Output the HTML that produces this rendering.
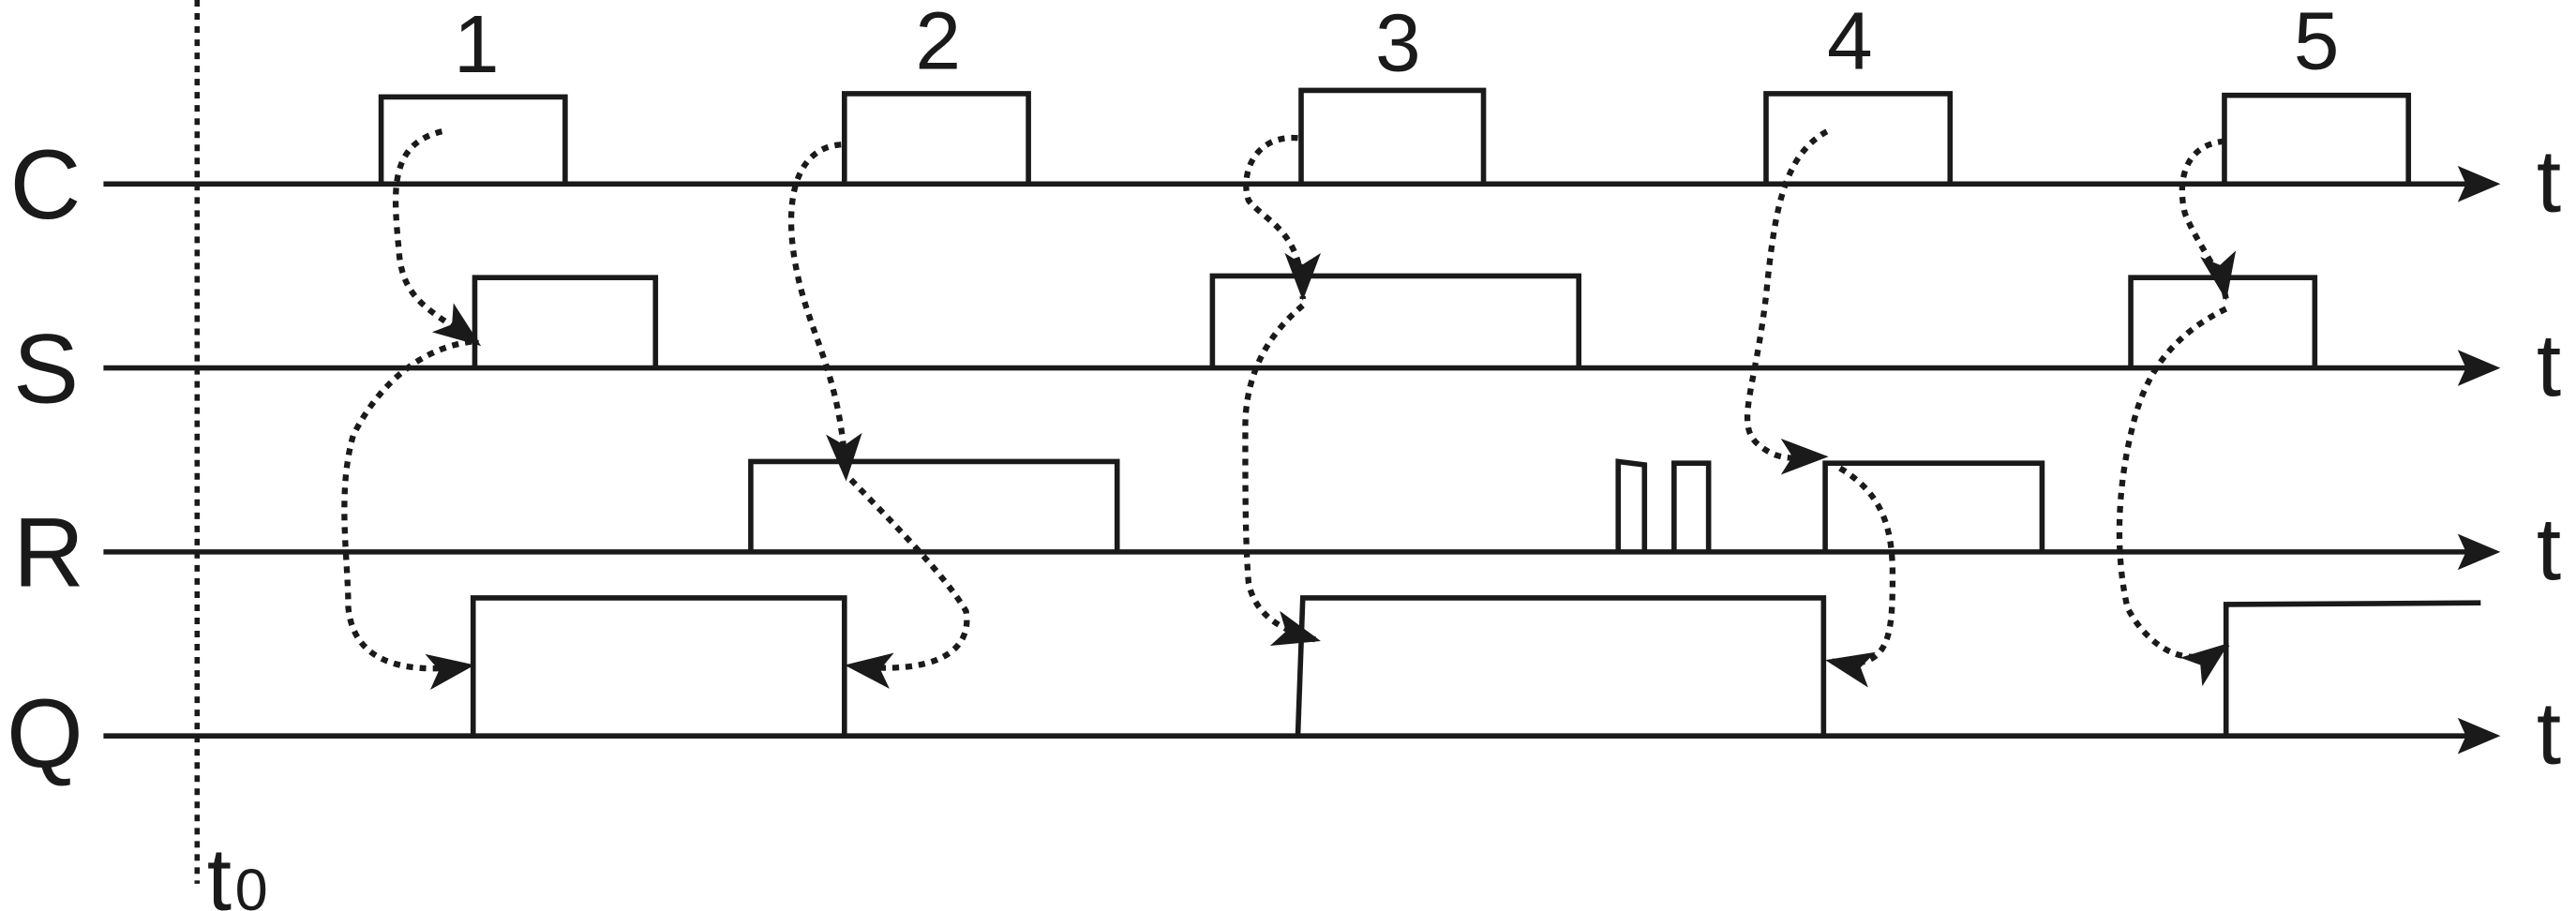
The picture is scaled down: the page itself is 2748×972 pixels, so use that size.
<!DOCTYPE html>
<html><head><meta charset="utf-8"><style>
html,body{margin:0;padding:0;background:#fff;}
svg{display:block;}
text{font-family:"Liberation Sans",sans-serif;fill:#1a1a1a;}
</style></head><body>
<svg width="2748" height="972" viewBox="0 0 1568 554.6" preserveAspectRatio="none" xmlns="http://www.w3.org/2000/svg">
<defs>
<marker id="a" markerWidth="34" markerHeight="26" refX="28" refY="11" orient="auto" markerUnits="userSpaceOnUse">
<path d="M0,0 L29,11 L0,22 L7,11 Z" fill="#1a1a1a"/>
</marker>
</defs>
<g stroke="#1a1a1a" stroke-width="3.2" fill="none">
<line x1="63" y1="112" x2="1505" y2="112"/>
<line x1="63" y1="224" x2="1505" y2="224"/>
<line x1="63" y1="336" x2="1505" y2="336"/>
<line x1="63" y1="448" x2="1505" y2="448"/>
<path d="M232,112 V59 H344 V112"/>
<path d="M514,112 V57 H626 V112"/>
<path d="M792,112 V55 H903 V112"/>
<path d="M1075,112 V57 H1187 V112"/>
<path d="M1354,112 V58 H1466 V112"/>
<path d="M289,224 V169 H399 V224"/>
<path d="M738,224 V168 H961 V224"/>
<path d="M1297,224 V169 H1409 V224"/>
<path d="M457,336 V281 H680 V336"/>
<path d="M985,336 V281 L1001,283 V336"/>
<path d="M1019,336 V282 H1040 V336"/>
<path d="M1111,336 V282 H1243 V336"/>
<path d="M288,448 V364 H514 V448"/>
<path d="M790,448 L793,364 H1110 V448"/>
<path d="M1355,448 V368 L1510,367"/>
</g>
<g fill="#1a1a1a">
<path d="M1522,112 L1496,101 L1501,112 L1496,123 Z"/>
<path d="M1522,224 L1496,213 L1501,224 L1496,235 Z"/>
<path d="M1522,336 L1496,325 L1501,336 L1496,347 Z"/>
<path d="M1522,448 L1496,437 L1501,448 L1496,459 Z"/>
</g>
<line x1="120" y1="0" x2="120" y2="538" stroke="#1a1a1a" stroke-width="3.2" stroke-dasharray="4 4"/>
<g stroke="#1a1a1a" stroke-width="3.6" stroke-dasharray="4 4" fill="none" marker-end="url(#a)">
<path d="M269,80 C235,88 240,120 243,155 C246,185 265,190 292,210"/>
<path d="M287,208 C255,212 230,235 215,265 C205,300 212,340 212,370 C215,400 240,412 288,405"/>
<path d="M512,88 C485,90 477,120 484,160 C492,205 512,225 515,292"/>
<path d="M518,292 C545,320 575,350 588,372 C592,395 572,412 515,405"/>
<path d="M790,84 C762,82 755,108 760,122 C770,135 793,140 793,182"/>
<path d="M793,186 C770,205 758,230 758,260 C758,300 758,330 760,355 C765,378 785,385 803,390"/>
<path d="M1112,80 C1085,95 1080,130 1075,180 C1068,240 1055,260 1072,272 C1085,282 1095,278 1112,278"/>
<path d="M1120,285 C1145,300 1152,320 1152,350 C1152,390 1150,410 1112,402"/>
<path d="M1354,86 C1330,88 1325,110 1330,130 C1338,150 1352,165 1355,182"/>
<path d="M1355,188 C1320,205 1305,230 1298,260 C1288,300 1288,340 1295,370 C1305,390 1330,412 1356,392"/>
</g>
<g font-size="60">
<text x="6" y="133">C</text>
<text x="8" y="245">S</text>
<text x="8" y="357">R</text>
<text x="4" y="467">Q</text>
</g>
<g font-size="54">
<text x="1544" y="129">t</text>
<text x="1544" y="241">t</text>
<text x="1544" y="353">t</text>
<text x="1544" y="465">t</text>
</g>
<text x="126" y="554" font-size="54">t</text>
<text x="143" y="554" font-size="36">0</text>
<g font-size="50" text-anchor="middle">
<text x="290" y="44">1</text>
<text x="571" y="42">2</text>
<text x="851" y="43">3</text>
<text x="1126" y="42">4</text>
<text x="1410" y="42">5</text>
</g>
</svg>
</body></html>
